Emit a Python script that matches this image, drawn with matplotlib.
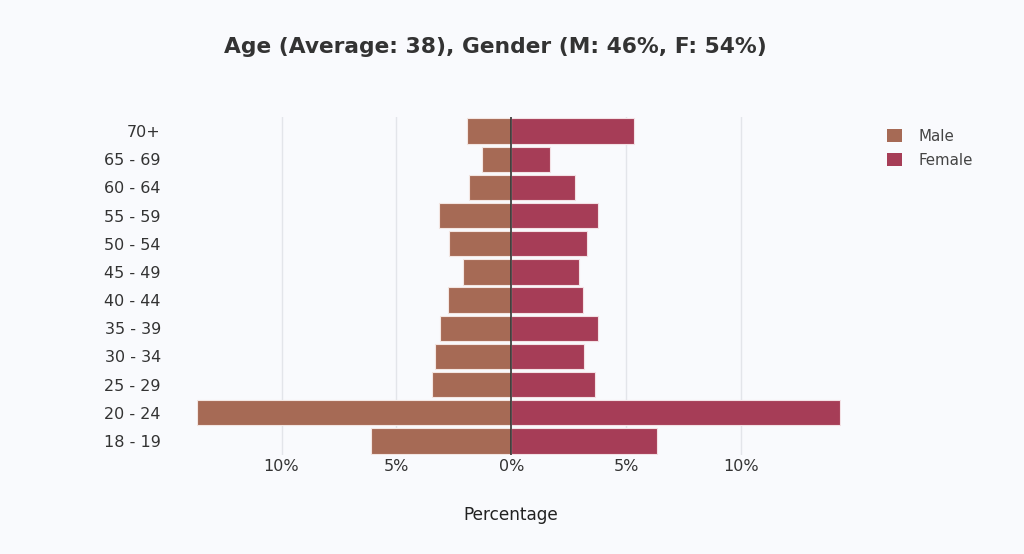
import numpy as np
import matplotlib
matplotlib.use("Agg")
import matplotlib.pyplot as plt
from matplotlib.patches import Patch
from matplotlib.ticker import FuncFormatter

# data (percent of respondents)
age_groups = ["18 - 19", "20 - 24", "25 - 29", "30 - 34", "35 - 39", "40 - 44",
              "45 - 49", "50 - 54", "55 - 59", "60 - 64", "65 - 69", "70+"]
male = [6.09, 13.67, 3.43, 3.30, 3.09, 2.75, 2.12, 2.69, 3.14, 1.83, 1.26, 1.95]
female = [6.35, 14.32, 3.65, 3.17, 3.78, 3.11, 2.94, 3.29, 3.77, 2.79, 1.70, 5.36]
tick_vals = [-10, -5, 0, 5, 10]

MALE_C = "#a66a55"
FEMALE_C = "#a63d57"
BG = "#f9fafd"
TXT = "#444444"

plt.rcParams["font.family"] = ["DejaVu Sans"]

fig = plt.figure(figsize=(10.24, 5.54), dpi=100, facecolor=BG)
ax = fig.add_axes([197 / 1024, 1 - 455 / 554, 644 / 1024, 338 / 554])
ax.set_facecolor(BG)

y = np.arange(len(age_groups))
ax.barh(y, -np.array(male), height=0.9, color=MALE_C, edgecolor="#f3e6e2",
        linewidth=0.8, label="Male", zorder=2)
ax.barh(y, female, height=0.9, color=FEMALE_C, edgecolor="#f3e1e5",
        linewidth=0.8, label="Female", zorder=2)

ax.set_xlim(-13.68, 14.35)
ax.set_ylim(-0.5, len(age_groups) - 0.5)
ax.set_xticks(tick_vals)
ax.xaxis.set_major_formatter(FuncFormatter(lambda v, p: f"{abs(int(v))}%"))
ax.set_yticks(y)
ax.set_yticklabels(age_groups)
ax.tick_params(axis="both", length=0, labelsize=11.5, colors=TXT)
ax.tick_params(axis="x", pad=3)
ax.tick_params(axis="y", pad=26)
for lab in ax.get_yticklabels() + ax.get_xticklabels():
    lab.set_color("#333333")

for v in tick_vals:
    if v != 0:
        ax.axvline(v, color="#e3e5ea", linewidth=1, zorder=1)
ax.axvline(0, color="#333333", linewidth=1.2, zorder=3)
for s in ax.spines.values():
    s.set_visible(False)

fig.text(510.5 / 1024, 1 - 515 / 554, "Percentage", ha="center", va="center",
         fontsize=12.2, color="#222222")

fig.text(495 / 1024, 1 - 47 / 554, "Age (Average: 38), Gender (M: 46%, F: 54%)",
         ha="center", va="center", fontsize=15.7, fontweight="bold", color="#333333")

handles = [Patch(facecolor=MALE_C, edgecolor="none", label="Male"),
           Patch(facecolor=FEMALE_C, edgecolor="none", label="Female")]
fig.legend(handles=handles, loc="upper left", bbox_to_anchor=(873 / 1024, 1 - 115 / 554),
           frameon=False, fontsize=10.8, handlelength=1.05, handleheight=1.05,
           handletextpad=1.05, labelspacing=0.6, labelcolor=TXT)

fig.savefig("out.png", dpi=100, facecolor=BG)
